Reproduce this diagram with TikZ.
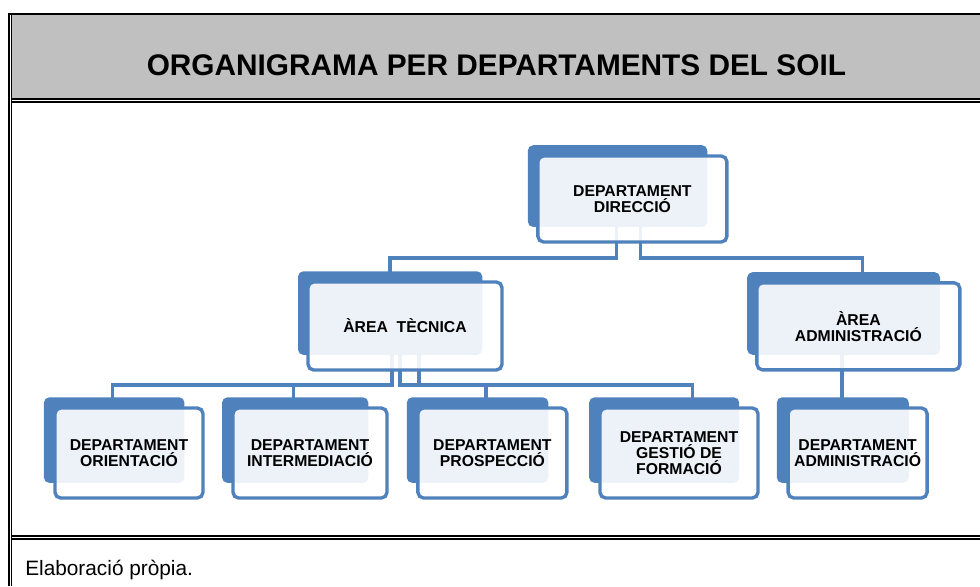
\documentclass[tikz,border=0pt]{standalone}
\usepackage{fontspec}
\setmainfont{Liberation Sans}
\usetikzlibrary{calc,shadows,backgrounds}
\definecolor{boxblue}{HTML}{4F81BD}
\definecolor{titlegray}{HTML}{C0C0C0}

\tikzset{
  deptbox/.style={draw=boxblue, line width=2.4pt, rounded corners=4pt,
    fill=white, fill opacity=0.9, text opacity=1, align=center,
    font=\fontsize{11.2}{11.6}\selectfont\bfseries,
    copy shadow={fill=boxblue, draw=none, fill opacity=1, shadow scale=0.95,
      shadow xshift=-0.39cm, shadow yshift=0.34cm}},
  conn/.style={draw=boxblue, line width=2.2pt}
}

\begin{document}
\begin{tikzpicture}
\useasboundingbox (0,0) rectangle (24.5,14.65);

%draw frame and title band
\fill[titlegray] (0.3,12.2) rectangle (24.5,14.3);
\draw[line width=1.4pt] (0.2,14.3) -- (24.5,14.3);
\draw[line width=1.4pt] (0.225,14.33) -- (0.225,0);
\draw[line width=0.8pt] (0.295,14.3) -- (0.295,0);
\draw[line width=1.4pt] (0.295,12.175) -- (24.5,12.175);
\draw[line width=1.4pt] (0.295,12.1) -- (24.5,12.1);
\draw[line width=1.4pt] (0.295,1.25) -- (24.5,1.25);
\draw[line width=1.2pt] (0.295,1.175) -- (24.5,1.175);

\node[font=\fontsize{21.2}{25}\selectfont\bfseries, anchor=base] (title) at (12.41,12.775)
  {ORGANIGRAMA PER DEPARTAMENTS DEL SOIL};
\node[font=\fontsize{14.8}{17}\selectfont, anchor=base west, inner sep=0pt] (source) at (0.625,0.275)
  {Elaboració pròpia.};

%draw boxes
\node[deptbox, minimum width=4.725cm, minimum height=2.15cm] (dir) at (15.81,9.675) {DEPARTAMENT\\DIRECCIÓ};
\node[deptbox, minimum width=4.85cm, minimum height=2.2cm] (tec) at (10.125,6.5) {ÀREA~~TÈCNICA};
\node[deptbox, minimum width=5.075cm, minimum height=2.175cm] (adm) at (21.46,6.49) {ÀREA\\ADMINISTRACIÓ};
\node[deptbox, minimum width=3.7cm, minimum height=2.25cm] (ori) at (3.225,3.325) {DEPARTAMENT\\ORIENTACIÓ};
\node[deptbox, minimum width=3.85cm, minimum height=2.25cm] (int) at (7.75,3.325) {DEPARTAMENT\\INTERMEDIACIÓ};
\node[deptbox, minimum width=3.725cm, minimum height=2.25cm] (pro) at (12.31,3.325) {DEPARTAMENT\\PROSPECCIÓ};
\node[deptbox, minimum width=3.95cm, minimum height=2.25cm] (for) at (16.975,3.325) {DEPARTAMENT\\GESTIÓ DE\\FORMACIÓ};
\node[deptbox, minimum width=3.475cm, minimum height=2.25cm] (dad) at (21.44,3.325) {DEPARTAMENT\\ADMINISTRACIÓ};

%draw connectors
\begin{scope}[on background layer]
\coordinate (bartop) at (0,8.2);
\coordinate (barmid) at (0,5.025);
\draw[conn] ([xshift=-0.4cm]dir.center) |- ([xshift=-0.375cm]tec.north |- bartop) -- ([xshift=-0.375cm]tec.north);
\draw[conn] ([xshift=0.2cm]dir.center) |- ([xshift=0.11cm]adm.north |- bartop) -- ([xshift=0.11cm]adm.north);
\draw[conn] ([xshift=-0.325cm]tec.center) |- ([xshift=-0.41cm]ori.north |- barmid) -- ([xshift=-0.41cm]ori.north);
\draw[conn] ([xshift=-0.325cm]tec.center) |- ([xshift=-0.42cm]int.north |- barmid) -- ([xshift=-0.42cm]int.north);
\draw[conn] ([xshift=-0.125cm]tec.center) |- ([xshift=-0.16cm]pro.north |- barmid) -- ([xshift=-0.16cm]pro.north);
\draw[conn] ([xshift=0.35cm]tec.center) |- ([xshift=0.33cm]for.north |- barmid) -- ([xshift=0.33cm]for.north);
\draw[conn] ([xshift=-0.41cm]adm.center) -- ([xshift=-0.41cm]adm.center |- dad.north);
\end{scope}
\end{tikzpicture}
\end{document}
